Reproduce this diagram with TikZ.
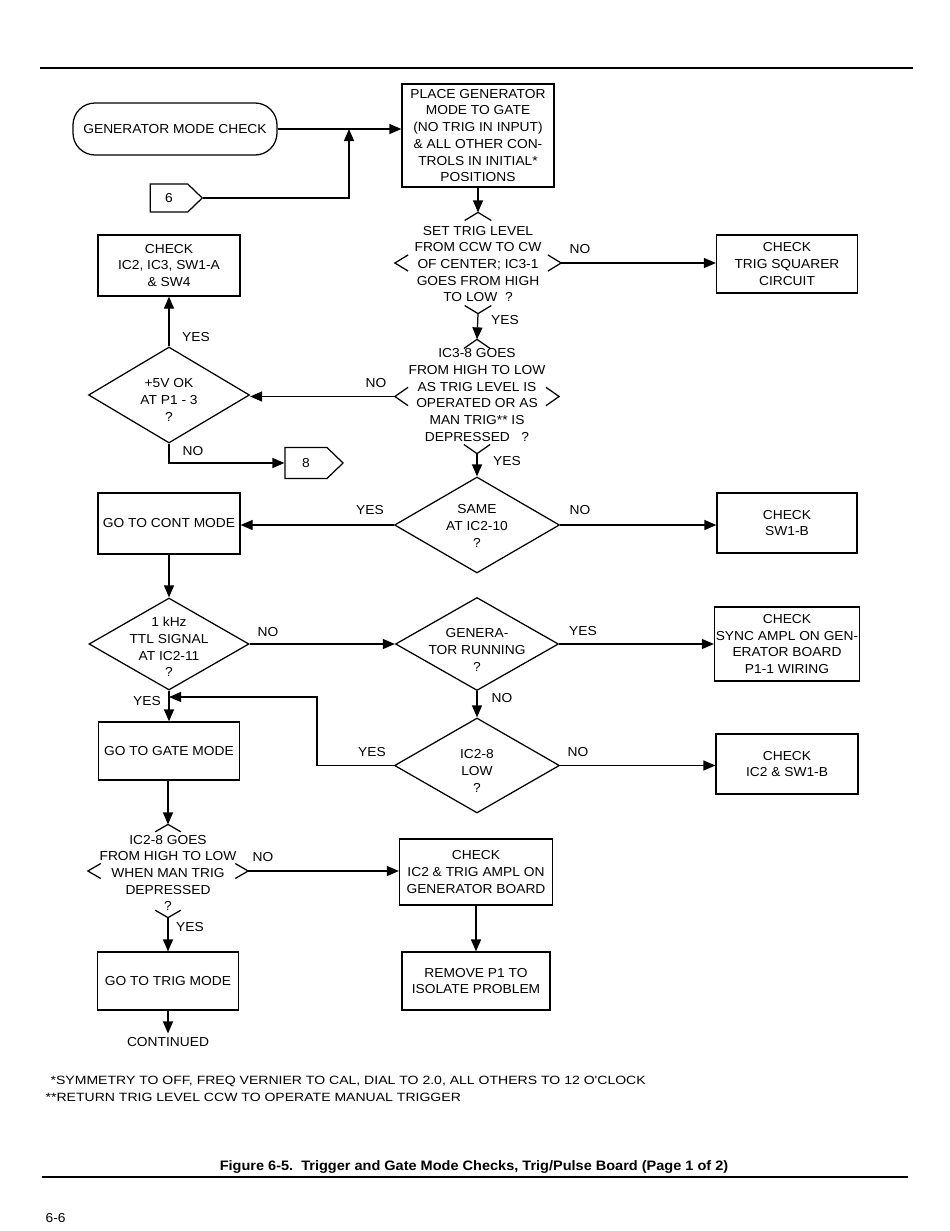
\documentclass[tikz,border=0pt]{standalone}
\usepackage{fontspec}
\setmainfont{Liberation Sans}[FakeStretch=1.06]
\newfontfamily\notefont{Liberation Sans}[FakeStretch=1.17]
\usetikzlibrary{shapes.geometric, shapes.symbols, arrows.meta, calc}

\tikzset{
block/.style    = {draw, rectangle, align=center, inner sep=1pt},
dia/.style      = {draw, diamond, inner sep=0pt},
opendia/.style  = {diamond, inner sep=0pt},
term/.style     = {draw, rectangle, rounded corners=22pt, align=center},
offpage/.style  = {draw, signal, signal to=east, signal pointer angle=88, inner sep=0pt},
txt/.style      = {align=center, inner sep=0pt},
lbl/.style      = {inner sep=0pt},
note/.style     = {anchor=west, inner sep=0pt, font=\notefont\fontsize{12}{14}\selectfont},
arr/.style      = {-{Triangle[length=12pt, width=10pt]}},
dims/.style 2 args = {minimum width=#1, minimum height=#2},}

\begin{document}
\begin{tikzpicture}[x=1pt, y=-1pt, line width=1.25pt, font=\fontsize{13}{16.7}\selectfont]
    \useasboundingbox (0,0) rectangle (950,1231);
    \draw (40,68) -- (913,68);

    \node[term, dims={204pt}{52pt}] (start) at (175,129) {GENERATOR MODE CHECK};
    \node[offpage, dims={52pt}{28pt}] (p6) at (169,198) {6};
    \node[block, dims={152pt}{103pt}] (place) at (478,135.5) {PLACE GENERATOR\\MODE TO GATE\\(NO TRIG IN INPUT)\\\& ALL OTHER CON-\\TROLS IN INITIAL*\\POSITIONS};
    \coordinate (j1) at (349,129);

    \node[opendia, dims={165pt}{100pt}] (q1) at (478,263) {};
    \node[txt] (q1t) at (478,264) {SET TRIG LEVEL\\FROM CCW TO CW\\OF CENTER; IC3-1\\GOES FROM HIGH\\TO LOW\ \ ?};
    \node[block, dims={142pt}{61pt}] (chk1) at (169,265.5) {CHECK\\IC2, IC3, SW1-A\\\& SW4};
    \node[block, dims={141pt}{58pt}] (sq) at (787,264) {CHECK\\TRIG SQUARER\\CIRCUIT};

    \node[opendia, dims={163pt}{113pt}] (q2) at (477,396.5) {};
    \node[txt] (q2t) at (477,395) {IC3-8 GOES\\FROM HIGH TO LOW\\AS TRIG LEVEL IS\\OPERATED OR AS\\MAN TRIG** IS\\DEPRESSED\ \ \ ?};
    \node[dia, dims={161pt}{96pt}] (d5v) at (169,395) {};
    \node[txt] (d5vt) at (169,400) {+5V OK\\AT P1 - 3\\?};
    \node[offpage, dims={58pt}{31pt}] (p8) at (306,463) {8};

    \node[dia, dims={165pt}{96pt}] (same) at (477,525) {};
    \node[txt] (samet) at (477,526) {SAME\\AT IC2-10\\?};
    \node[block, dims={142pt}{61pt}] (cont) at (169,523.5) {GO TO CONT MODE};
    \node[block, dims={140pt}{60pt}] (sw1b) at (787,523) {CHECK\\SW1-B};

    \node[dia, dims={160pt}{92pt}] (khz) at (169,644) {};
    \node[txt] (khzt) at (169,647) {1 kHz\\TTL SIGNAL\\AT IC2-11\\?};
    \node[dia, dims={163pt}{93pt}] (gen) at (477,644) {};
    \node[txt] (gent) at (477,650) {GENERA-\\TOR RUNNING\\?};
    \node[block, dims={145pt}{74pt}] (sync) at (787,644) {CHECK\\SYNC AMPL ON GEN-\\ERATOR BOARD\\P1-1 WIRING};

    \node[dia, dims={165pt}{95pt}] (low) at (477,765.5) {};
    \node[txt] (lowt) at (477,771) {IC2-8\\LOW\\?};
    \node[block, dims={142pt}{60pt}] (sw1c) at (787,764) {CHECK\\IC2 \& SW1-B};
    \node[block, dims={141pt}{58pt}] (gate) at (169,751) {GO TO GATE MODE};
    \coordinate (j2) at (169,697);
    \coordinate (j3) at (317,697);

    \node[opendia, dims={159pt}{92pt}] (q3) at (168,871) {};
    \node[txt] (q3t) at (168,873) {IC2-8 GOES\\FROM HIGH TO LOW\\WHEN MAN TRIG\\DEPRESSED\\?};
    \node[block, dims={153pt}{66pt}] (amp) at (476,872) {CHECK\\IC2 \& TRIG AMPL ON\\GENERATOR BOARD};
    \node[block, dims={141pt}{58pt}] (trig) at (168,981) {GO TO TRIG MODE};
    \node[block, dims={148pt}{58pt}] (rem) at (476,981) {REMOVE P1 TO\\ISOLATE PROBLEM};
    \node (more) at (168,1042) {CONTINUED};

    \foreach \q in {q1,q2,q3}
        \foreach \a/\b/\c in {north/west/east, south/west/east, west/north/south, east/north/south}
            \draw ($(\q.\a)!.16!(\q.\b)$) -- (\q.\a) -- ($(\q.\a)!.16!(\q.\c)$);

    \draw[arr] (start.east) -- (start.east -| place.west);
    \draw[arr] (p6.east) -| (j1);
    \draw[arr] (place.south) -- (q1.north);
    \draw[arr] (q1.east) -- (q1.east -| sq.west);
    \draw[arr] (q1.south) -- (q2.north);
    \draw[arr] (q2.west) -- (q2.west -| d5v.east);
    \draw[arr] (d5v.north) -- (chk1.south);
    \draw[arr] (d5v.south) |- (p8.west);
    \draw[arr] (q2.south) -- (same.north);
    \draw[arr] (same.west) -- (same.west -| cont.east);
    \draw[arr] (same.east) -- (same.east -| sw1b.west);
    \draw[arr] (cont.south) -- (khz.north);
    \draw[arr] (khz.east) -- (khz.east -| gen.west);
    \draw[arr] (gen.east) -- (gen.east -| sync.west);
    \draw[arr] (gen.south) -- (low.north);
    \draw[arr] (low.east) -- (low.east -| sw1c.west);
    \draw[arr] (low.west) -| (j3) -- (j2);
    \draw[arr] (khz.south) -- (khz.south |- gate.north);
    \draw[arr] (gate.south -| q3.north) -- (q3.north);
    \draw[arr] (q3.east) -- (q3.east -| amp.west);
    \draw[arr] (q3.south) -- (trig.north);
    \draw[arr] (amp.south) -- (rem.north);
    \draw[arr] (trig.south) -- (more.north);

    \node[lbl] (n1) at (580,249) {NO};
    \node[lbl] (n2) at (505,320) {YES};
    \node[lbl] (n3) at (376,383) {NO};
    \node[lbl] (n4) at (196,337) {YES};
    \node[lbl] (n5) at (193,451) {NO};
    \node[lbl] (n6) at (507,461) {YES};
    \node[lbl] (n7) at (370,510) {YES};
    \node[lbl] (n8) at (580,510) {NO};
    \node[lbl] (n9) at (268,632) {NO};
    \node[lbl] (n10) at (583,631) {YES};
    \node[lbl] (n11) at (502,698) {NO};
    \node[lbl] (n12) at (372,752) {YES};
    \node[lbl] (n13) at (578,752) {NO};
    \node[lbl] (n14) at (147,701) {YES};
    \node[lbl] (n15) at (263,857) {NO};
    \node[lbl] (n16) at (190,927) {YES};

    \node[note] (fn1) at (50,1081) {*SYMMETRY TO OFF, FREQ VERNIER TO CAL, DIAL TO 2.0, ALL OTHERS TO 12 O'CLOCK};
    \node[note] (fn2) at (45,1097) {**RETURN TRIG LEVEL CCW TO OPERATE MANUAL TRIGGER};
    \node[inner sep=0pt, font=\bfseries\fontsize{13.7}{16}\selectfont] (cap) at (474,1167) {Figure 6-5.\ \ Trigger and Gate Mode Checks, Trig/Pulse Board (Page 1 of 2)};
    \draw (42,1177) -- (908,1177);
    \node[anchor=west, inner sep=0pt] (pg) at (45,1218) {6-6};
\end{tikzpicture}
\end{document}
